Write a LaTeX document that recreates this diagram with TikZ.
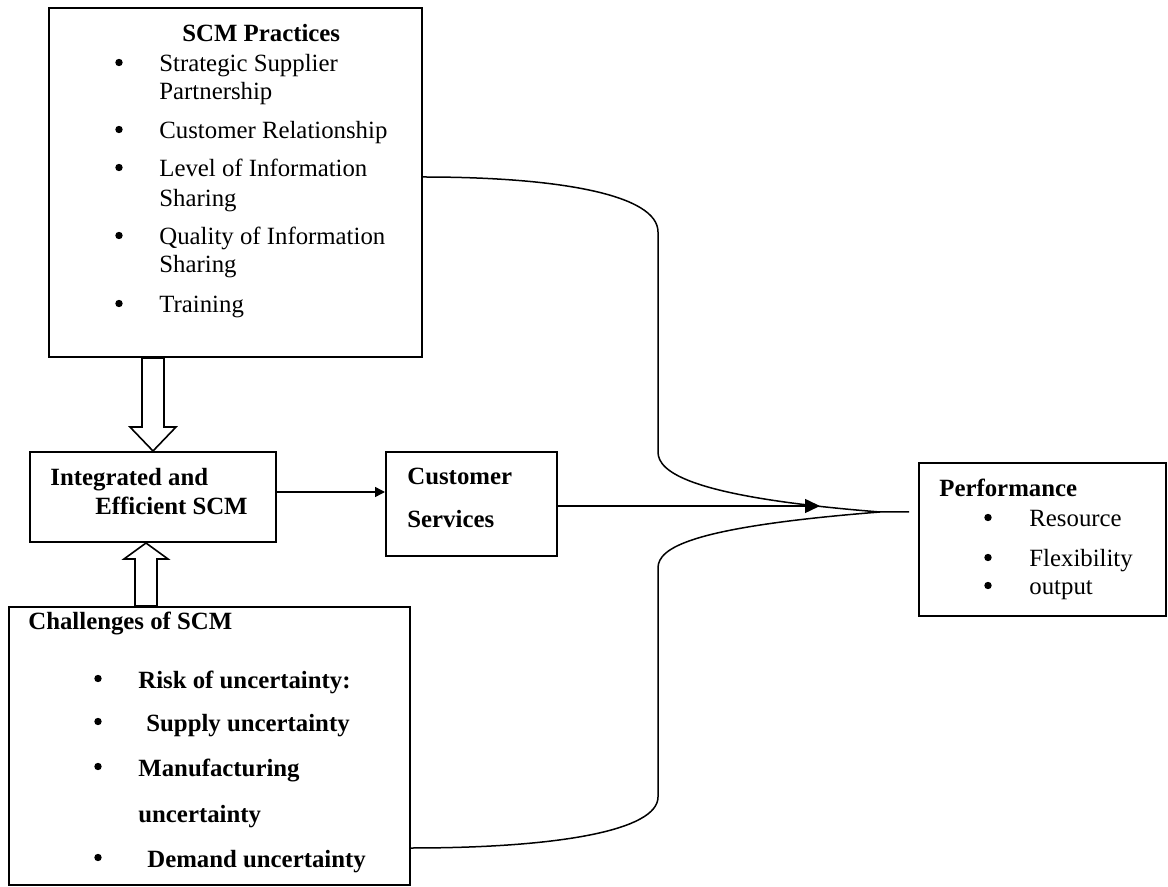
\documentclass[tikz,border=0pt]{standalone}
\usepackage{fontspec}
\setmainfont{Liberation Serif}
\usetikzlibrary{fit,arrows.meta,calc}
\begin{document}
\begin{tikzpicture}[x=0.5pt,y=-0.5pt,
  box/.style={draw, line width=1pt, inner sep=0pt},
  txt/.style={inner sep=0pt, anchor=base west, font=\fontsize{12.4}{14}\selectfont},
  btxt/.style={inner sep=0pt, anchor=base west, font=\fontsize{12.4}{14}\selectfont\bfseries},
  bul/.style={circle, fill, inner sep=0pt, minimum size=3.7pt, yshift=4.75pt},
  link/.style={line width=0.75pt},
  hollow/.style={draw, line width=0.8pt, line join=miter}]
\useasboundingbox (0,0) rectangle (1168,887);

% boxes
\node[box, fit={(49,8) (422,357)}] (scm) {};
\node[box, fit={(30,452) (276,542)}] (ies) {};
\node[box, fit={(386,452) (557,556)}] (cs) {};
\node[box, fit={(9,607) (410,885)}] (ch) {};
\node[box, fit={(919,463) (1166,616)}] (perf) {};

% SCM Practices text
\node[btxt] (scmT) at (182,42) {SCM Practices};
\node[bul] (b1) at (119,72) {};
\node[txt] (s1a) at (159,72) {Strategic Supplier};
\node[txt] (s1b) at (159,100) {Partnership};
\node[bul] (b2) at (119,139) {};
\node[txt] (s2) at (159,139) {Customer Relationship};
\node[bul] (b3) at (119,177) {};
\node[txt] (s3a) at (159,177) {Level of Information};
\node[txt] (s3b) at (159,207) {Sharing};
\node[bul] (b4) at (119,245) {};
\node[txt] (s4a) at (159,245) {Quality of Information};
\node[txt] (s4b) at (159,273) {Sharing};
\node[bul] (b5) at (119,313) {};
\node[txt] (s5) at (159,313) {Training};

% Integrated text
\node[btxt] (iesA) at (50,486) {Integrated and};
\node[btxt] (iesB) at (95,515) {Efficient SCM};

% Customer services text
\node[btxt] (csA) at (407,485) {Customer};
\node[btxt] (csB) at (407,528) {Services};

% Challenges text
\node[btxt] (chT) at (28,630) {Challenges of SCM};
\node[bul] (c1) at (98,688) {};
\node[btxt] (c1t) at (138,688) {Risk of uncertainty:};
\node[bul] (c2) at (98,731) {};
\node[btxt] (c2t) at (146,731) {Supply uncertainty};
\node[bul] (c3) at (98,776) {};
\node[btxt] (c3a) at (138,776) {Manufacturing};
\node[btxt] (c3b) at (138,822) {uncertainty};
\node[bul] (c4) at (98,867) {};
\node[btxt] (c4t) at (147,867) {Demand uncertainty};

% Performance text
\node[btxt] (pT) at (939,497) {Performance};
\node[bul] (p1) at (988,527) {};
\node[txt] (p1t) at (1029,527) {Resource};
\node[bul] (p2) at (988,567) {};
\node[txt] (p2t) at (1029,567) {Flexibility};
\node[bul] (p3) at (988,595) {};
\node[txt] (p3t) at (1029,595) {output};

% hollow arrows
\coordinate (da) at (scm.south -| ies.north);
\draw[hollow] (ies.north) -- ++(-23,-24) -- ++(12,0) -- ($(da)+(-11,0)$)
  -- ($(da)+(11,0)$) -- ($(ies.north)+(11,-24)$) -- ++(12,0) -- cycle;
\coordinate (ua) at ($(ies.south)+(-7,0)$);
\coordinate (ub) at (ua |- ch.north);
\draw[hollow] (ua) -- ++(-22,16) -- ++(11,0) -- ($(ub)+(-11,0)$)
  -- ($(ub)+(11,0)$) -- ($(ua)+(11,16)$) -- ($(ua)+(22,16)$) -- cycle;

% connectors
\coordinate (y177) at (0,177);
\coordinate (y848) at (0,848);
\coordinate (y492) at (0,492);
\coordinate (ctip) at (820,506);
\coordinate (join) at (880,512);
\coordinate (pend) at (909,512);

\draw[link, -{Triangle[length=5pt,width=5pt]}] (ies.east |- y492) -- (cs.west |- y492);
\draw[link, -{Triangle[length=7.5pt,width=7pt]}] (cs.east |- ctip) -- (ctip);

\draw[link] (scm.east |- y177) .. controls (560,177) and (658,195) .. (658,232)
  -- (658,452) .. controls (658,472) and (690,497) .. (join) -- (pend);
\draw[link] (ch.east |- y848) .. controls (560,848) and (658,830) .. (658,797)
  -- (658,568) .. controls (658,548) and (690,527) .. (join);
\end{tikzpicture}
\end{document}
